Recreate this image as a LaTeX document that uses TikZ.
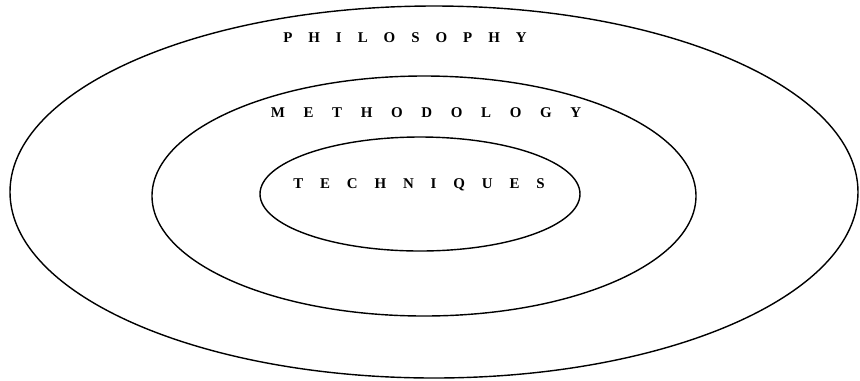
\documentclass[tikz,border=0pt]{standalone}
\usepackage{fontspec}
\usepackage{tikz}
\usetikzlibrary{positioning}
\setmainfont{Liberation Serif}

\begin{document}
\begin{tikzpicture}[x=0.02cm, y=-0.02cm, ring/.style={draw, line width=0.8pt
}, lvl/.style={font=\bfseries\fontsize{8.5}{10}\selectfont\addfontfeature{LetterSpace=#1}, inner sep=0pt
}, lvl/.default=107]
\useasboundingbox (0,0) rectangle (860,380);

\draw[ring] (434,192) ellipse (424 and 186);
\draw[ring] (424,196) ellipse (272 and 120);
\draw[ring] (420,194) ellipse (160 and 57);

\node[lvl] (phil) at (405,38){PHILOSOPHY};
\node[lvl=125] (meth) at (426,113){METHODOLOGY};
\node[lvl=113] (tech) at (419,185){TECHNIQUES};
\end{tikzpicture}
\end{document}
